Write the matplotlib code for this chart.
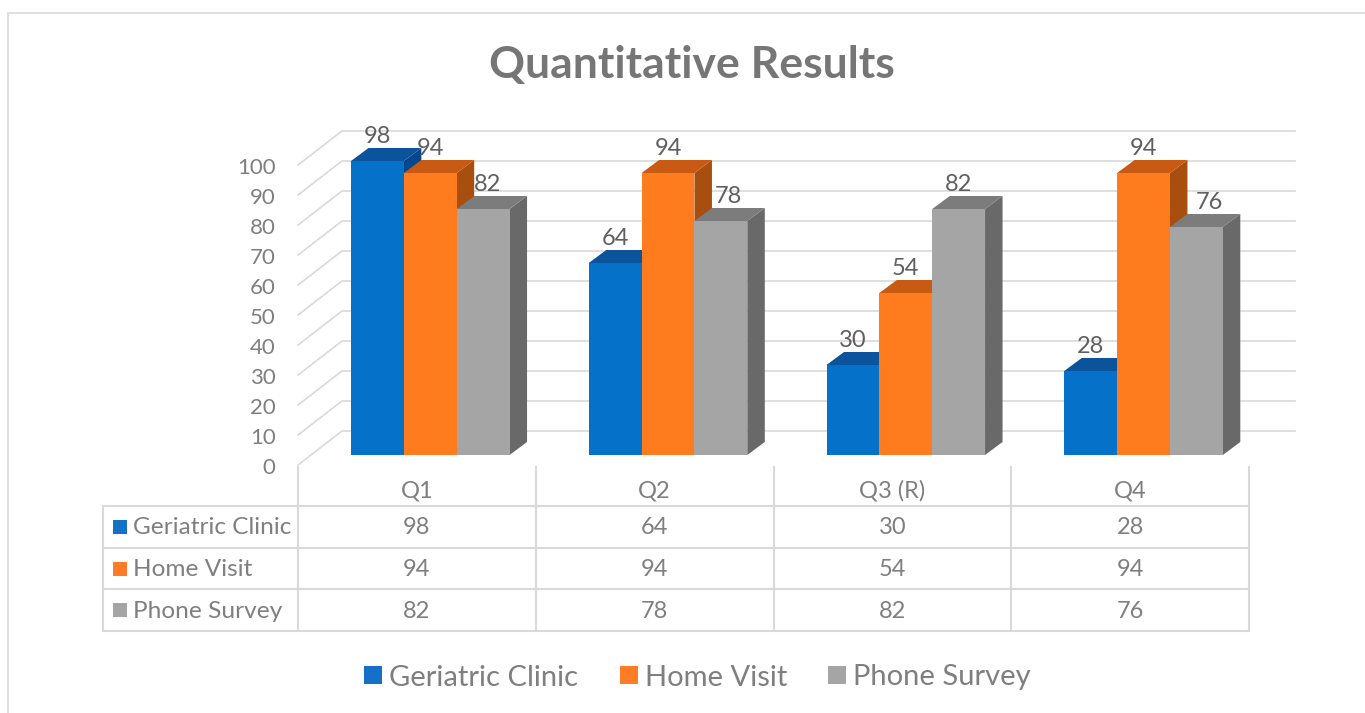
import matplotlib
matplotlib.use("Agg")
import matplotlib.pyplot as plt
from matplotlib.lines import Line2D
from matplotlib.patches import Polygon
from matplotlib.transforms import ScaledTranslation

categories = ["Q1", "Q2", "Q3 (R)", "Q4"]
series_names = ["Geriatric Clinic", "Home Visit", "Phone Survey"]
geriatric_clinic = [98, 64, 30, 28]
home_visit = [94, 94, 54, 94]
phone_survey = [82, 78, 82, 76]
y_ticks = [0, 10, 20, 30, 40, 50, 60, 70, 80, 90, 100]

series_values = [geriatric_clinic, home_visit, phone_survey]
front_colors = ["#0571C8", "#FF7C1E", "#A5A5A5"]
top_colors = ["#0B539A", "#C85A14", "#7C7C7C"]
side_colors = ["#03478F", "#A84E0E", "#696969"]
legend_colors = ["#1570C8", "#FF7C26", "#A5A5A5"]
label_nudges = {(2, 0): 4, (2, 1): 7, (2, 3): 13}  # px, labels moved off the neighbouring bar

W, H = 1365, 713
L, R, B, T = 298.0, 1249.0, 465.0, 165.0
FONT = "Lato"
GRID = "#D9D9D9"
TEXT = "#7F7F7F"
LABEL = "#5F5F5F"
NUM_SIZE = 17
TICK_SIZE = 16
NAME_SIZE = 17.6

plt.rcParams["font.family"] = [FONT, "DejaVu Sans"]
fig = plt.figure(figsize=(W / 100, H / 100), dpi=100, facecolor="white")
ax = fig.add_axes([L / W, 1 - B / H, (R - L) / W, (B - T) / H])
ax.set_xlim(0, 4)
ax.set_ylim(0, 100)
ax.patch.set_visible(False)
for s in ax.spines.values():
    s.set_visible(False)

PX = (R - L) / 4   # pixels per category
PY = (B - T) / 100  # pixels per value unit


def dx(p):
    return p / PX


def dy(p):
    return p / PY


# y-axis tick labels and category labels through the axes' own ticks
ax.set_yticks(y_ticks)
ax.set_xticks([i + 0.5 for i in range(len(categories))])
ax.set_xticklabels(categories)
ax.tick_params(axis="y", length=0, pad=16.2, labelsize=TICK_SIZE, labelcolor=TEXT)
ax.tick_params(axis="x", length=0, pad=11, labelsize=NUM_SIZE, labelcolor=TEXT)
shift = ScaledTranslation(0, -2.2 / 72, fig.dpi_scale_trans)
for t in ax.get_yticklabels():
    t.set_verticalalignment("center")
    t.set_transform(t.get_transform() + shift)

# gridlines: diagonal side wall + back wall
GX, GY = dx(44), dy(34)
RIGHT = dx(1295 - L)
for v in y_ticks:
    ax.plot([0, GX, RIGHT], [v, v + GY, v + GY], color=GRID, lw=1.2,
            clip_on=False, zorder=1, solid_joinstyle="miter")

# bars with their depth faces
BW = dx(52.85)
OFFX = dx(53)
BASE = dy(10)
DX, DY = dx(17.5), dy(13)
z = 2
for c in range(len(categories)):
    for s, vals in enumerate(series_values):
        v = vals[c]
        x0 = c + OFFX + s * BW
        x1 = x0 + BW
        y0, y1 = BASE, BASE + v
        ax.add_patch(Polygon([(x1, y0), (x1 + DX, y0 + DY), (x1 + DX, y1 + DY), (x1, y1)],
                             closed=True, fc=side_colors[s], ec="none", clip_on=False, zorder=z))
        ax.add_patch(Polygon([(x0, y1), (x0 + DX, y1 + DY), (x1 + DX, y1 + DY), (x1, y1)],
                             closed=True, fc=top_colors[s], ec="none", clip_on=False, zorder=z))
        ax.bar(x0, v, width=BW, bottom=BASE, align="edge", color=front_colors[s],
               clip_on=False, zorder=z + 0.5)
        z += 1

# data labels
for c in range(len(categories)):
    for s, vals in enumerate(series_values):
        v = vals[c]
        xc = c + OFFX + (s + 0.5) * BW + dx(label_nudges.get((s, c), 0))
        ax.text(xc, BASE + v + dy(24.5), str(v), ha="center", va="center",
                fontsize=NUM_SIZE, color=LABEL, clip_on=False, zorder=100)

# data table
row_edges = [B + 41, B + 83, B + 124, B + 166]  # px from the top of the figure


def row_y(py):
    return dy(B - py)


LEFT = dx(103 - L)
tlw = 1.5
for py in row_edges:
    ax.plot([LEFT, 4], [row_y(py)] * 2, color=GRID, lw=tlw, clip_on=False,
            solid_capstyle="projecting", zorder=1)
ax.plot([LEFT, LEFT], [row_y(row_edges[0]), row_y(row_edges[-1])], color=GRID, lw=tlw,
        clip_on=False, solid_capstyle="projecting", zorder=1)
for i in range(len(categories) + 1):
    ax.plot([i, i], [row_y(B + 1), row_y(row_edges[-1])], color=GRID, lw=tlw,
            clip_on=False, solid_capstyle="butt", zorder=1)

for r, name in enumerate(series_names):
    yc = (row_y(row_edges[r]) + row_y(row_edges[r + 1])) / 2
    ax.plot([dx(119.5 - L)], [yc], marker="s", ms=10.6, mew=0, color=legend_colors[r],
            clip_on=False, zorder=5)
    ax.text(dx(133 - L), yc - dy(1), name, ha="left", va="center", fontsize=NAME_SIZE,
            color=TEXT, clip_on=False)
    for c in range(len(categories)):
        ax.text(c + 0.5, yc - dy(1), str(series_values[r][c]), ha="center", va="center",
                fontsize=NUM_SIZE, color=TEXT, clip_on=False)

# title
fig.text(691.5 / W, 1 - 65.5 / H, "Quantitative Results", ha="center", va="center",
         fontsize=32, fontweight="bold", color="#767676")

# legend
handles = [Line2D([], [], ls="none", marker="s", ms=12.8, mew=0, color=c) for c in legend_colors]
fig.legend(handles, series_names, loc="center", bbox_to_anchor=(697.5 / W, 1 - 677.5 / H),
           ncol=3, frameon=False, fontsize=21, labelcolor=TEXT,
           handlelength=0.62, handletextpad=0.24, columnspacing=1.42,
           borderpad=0, borderaxespad=0)

# chart-area frame (open on the right and bottom, as cropped)
fig.add_artist(Line2D([8 / W, 8 / W, 1], [0, 1 - 13 / H, 1 - 13 / H], color=GRID, lw=1.2,
                      solid_joinstyle="miter"))

fig.savefig("out.png", dpi=100, facecolor="white")
